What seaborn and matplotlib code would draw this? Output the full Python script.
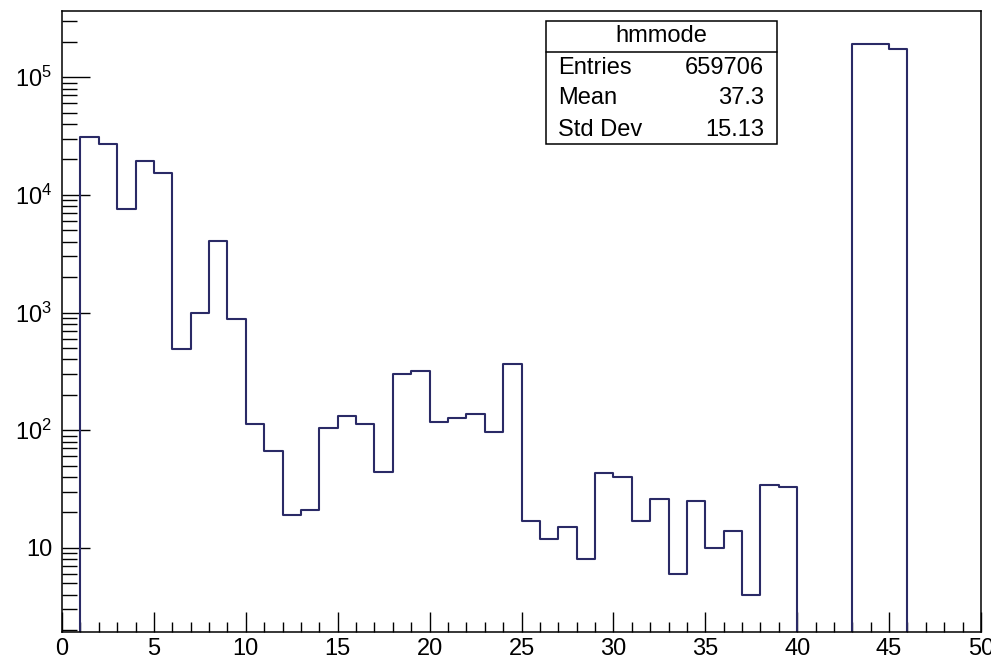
import numpy as np
import pandas as pd
import matplotlib
matplotlib.use("Agg")
import matplotlib.pyplot as plt
import seaborn as sns
from matplotlib.ticker import FixedLocator, FixedFormatter, LogLocator, MultipleLocator, NullFormatter
from matplotlib.patches import Rectangle

# Histogram "hmmode": 50 unit-wide bins over [0, 50)
bin_edges = list(range(0, 51))
counts = [0, 30900, 27300, 7570, 19300, 15300, 486, 1000, 4040, 873,
          114, 66, 19, 21, 105, 132, 113, 44, 303, 316,
          117, 128, 138, 96, 369, 17, 12, 15, 8, 43,
          40, 17, 26, 6, 25, 10, 14, 4, 34, 33,
          0, 0, 0, 193000, 193000, 172000, 0, 0, 0, 0]

# Statistics box contents
stats_title = "hmmode"
stats_names = ["Entries", "Mean", "Std Dev"]
stats_values = ["659706", "37.3", "15.13"]

# Axis tick labels
xtick_values = [0, 5, 10, 15, 20, 25, 30, 35, 40, 45, 50]
ytick_values = [10, 100, 1000, 10000, 100000]
ytick_labels = ["10", "$10^{2}$", "$10^{3}$", "$10^{4}$", "$10^{5}$"]

sns.set_theme(style="white")
plt.rcParams["font.family"] = ["Liberation Sans", "DejaVu Sans"]
plt.rcParams["mathtext.fontset"] = "custom"
plt.rcParams["mathtext.rm"] = "Liberation Sans"
plt.rcParams["mathtext.it"] = "Liberation Sans:italic"
plt.rcParams["mathtext.bf"] = "Liberation Sans:bold"

df = pd.DataFrame({
    "mode": [e + 0.5 for e in bin_edges[:-1]],
    "count": counts,
})

fig = plt.figure(figsize=(9.91, 6.58), dpi=100)
ax = fig.add_axes([62 / 991, 1 - 632 / 658, (981 - 62) / 991, (632 - 11) / 658])

line_color = "#2a2a66"
sns.histplot(data=df, x="mode", weights="count", bins=bin_edges,
             element="step", fill=False, color=line_color, linewidth=1.5, ax=ax)

ax.set_yscale("log")
ax.set_xlim(0, 50)
ax.set_ylim(1.93, 3.65e5)
ax.set_xlabel("")
ax.set_ylabel("")

# Frame and ticks
for s in ax.spines.values():
    s.set_color("black")
    s.set_linewidth(1.1)
    s.set_visible(True)

ax.xaxis.set_major_locator(FixedLocator(xtick_values))
ax.xaxis.set_minor_locator(MultipleLocator(1))
ax.yaxis.set_major_locator(FixedLocator(ytick_values))
ax.yaxis.set_major_formatter(FixedFormatter(ytick_labels))
ax.yaxis.set_minor_locator(LogLocator(base=10, subs=np.arange(2, 10)))
ax.yaxis.set_minor_formatter(NullFormatter())

tick_fs = 17
ax.tick_params(axis="x", which="major", direction="in", length=14.4, width=1.0,
               color="black", labelsize=tick_fs, pad=4, top=False, bottom=True)
ax.tick_params(axis="x", which="minor", direction="in", length=7.2, width=1.0,
               color="black", top=False, bottom=True)
ax.tick_params(axis="y", which="major", direction="in", length=20, width=1.0,
               color="black", labelsize=tick_fs, pad=7, left=True, right=False)
ax.tick_params(axis="y", which="minor", direction="in", length=11, width=1.0,
               color="black", left=True, right=False)
for lbl in ax.get_xticklabels() + ax.get_yticklabels():
    lbl.set_color("black")

# Statistics box
box_fs = 17
bx0, bx1 = (546 - 62) / 919, (777 - 62) / 919
by0, by1 = (632 - 144) / 621, (632 - 21) / 621
bdiv = (632 - 52) / 621
ax.add_patch(Rectangle((bx0, by0), bx1 - bx0, by1 - by0, transform=ax.transAxes,
                       facecolor="white", edgecolor="black", linewidth=1.1, zorder=5))
ax.plot([bx0, bx1], [bdiv, bdiv], transform=ax.transAxes, color="black",
        linewidth=1.1, zorder=6)
ax.text((bx0 + bx1) / 2, (by1 + bdiv) / 2, stats_title, transform=ax.transAxes,
        ha="center", va="center", fontsize=box_fs, color="black", zorder=7)
row_y = [(632 - 68) / 621, (632 - 98.5) / 621, (632 - 130) / 621]
for name, val, yy in zip(stats_names, stats_values, row_y):
    ax.text((558 - 62) / 919, yy, name, transform=ax.transAxes, ha="left",
            va="center", fontsize=box_fs, color="black", zorder=7)
    ax.text((764 - 62) / 919, yy, val, transform=ax.transAxes, ha="right",
            va="center", fontsize=box_fs, color="black", zorder=7)

fig.savefig("out.png", dpi=100, facecolor="white")
